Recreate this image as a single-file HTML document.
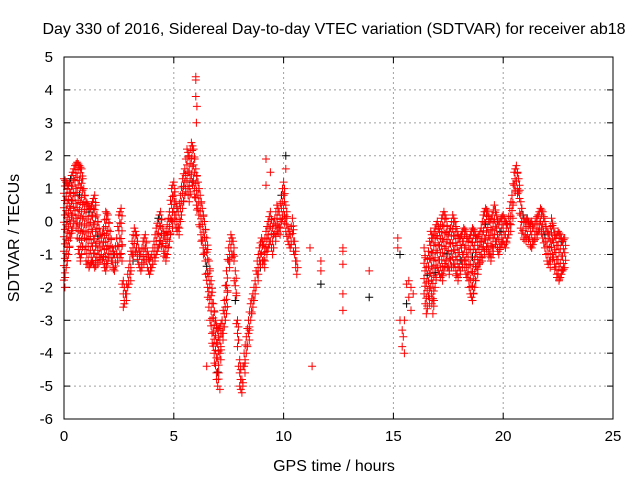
<!DOCTYPE html>
<html><head><meta charset="utf-8"><style>
html,body{margin:0;padding:0;background:#fff;}
svg{display:block;font-family:"Liberation Sans",sans-serif;}
</style></head><body>
<svg id="chart" width="640" height="480" viewBox="0 0 640 480">
<text x="334" y="34" font-size="16" text-anchor="middle">Day 330 of 2016, Sidereal Day-to-day VTEC variation (SDTVAR) for receiver ab18</text>
<text x="334" y="471" font-size="16" text-anchor="middle">GPS time / hours</text>
<text transform="translate(19,238) rotate(-90)" font-size="16" text-anchor="middle">SDTVAR / TECUs</text>
<g id="grid"></g><g id="ticks"></g><g id="marks"></g>
<rect x="64" y="57" width="549" height="362" fill="none" stroke="#000" stroke-width="1"/>
</svg>
<script>
const xTicks=[0,5,10,15,20,25];
const yTicks=[-6,-5,-4,-3,-2,-1,0,1,2,3,4,5];
const upperT=[0,0.1,0.2,0.3,0.4,0.5,0.6,0.7,0.8,0.9,1.0,1.1,1.2,1.3,1.4,1.5,1.6,1.7,1.8,1.9,2.0,2.1,2.2,2.3,2.4,2.5,2.6,2.7,2.8,2.9,3.0,3.1,3.2,3.3,3.4,3.5,3.6,3.7,3.8,3.9,4.0,4.1,4.2,4.3,4.4,4.5,4.6,4.7,4.8,4.9,5.0,5.1,5.2,5.3,5.4,5.5,5.6,5.7,5.8,5.9,6.0,6.1,6.2,6.3,6.4,6.5,6.6,6.7,6.8,6.9,7.0,7.1,7.2,7.3,7.4,7.5,7.6,7.7,7.8,7.9,8.0,8.1,8.2,8.3,8.4,8.5,8.6,8.7,8.8,8.9,9.0,9.1,9.2,9.3,9.4,9.5,9.6,9.7,9.8,9.9,10.0,10.1,10.2,10.3,10.4,10.5,10.6];
const upperV=[1.3,1.2,1.1,1.3,1.5,1.7,1.8,1.7,1.6,1.0,0.6,0.5,0.4,0.6,0.8,0.2,-0.2,-0.5,-0.2,0.3,0.2,-0.3,-0.8,-1.0,-0.5,0.2,0.4,-1.8,-2.2,-1.6,-1.2,-0.6,-0.2,-0.4,-0.8,-1.0,-0.6,-0.4,-0.9,-1.2,-1.0,-0.6,-0.2,0.1,0.3,-0.2,-0.5,-0.1,0.3,1.0,1.2,0.6,0.3,0.8,1.3,1.6,2.2,2.0,2.4,2.2,1.6,1.2,0.8,0.4,0,-0.5,-1.2,-1.8,-2.5,-3.0,-3.3,-3.2,-3.0,-2.4,-1.5,-0.8,-0.4,-0.6,-1.5,-3.0,-4.2,-4.8,-4.0,-3.5,-3.0,-2.5,-2.2,-1.8,-1.2,-0.8,-0.5,-0.7,-0.3,0,0.3,-0.2,0.1,0.5,0.3,0.8,1.2,0.5,-0.2,-0.4,0.1,-0.6,-1.2];
const lowerV=[-2.0,-1.4,-1.0,-0.5,-0.2,0.1,-0.5,-1.2,-1.0,-0.5,-1.2,-1.4,-1.3,-1.2,-1.4,-1.3,-1.2,-1.0,-1.3,-1.5,-1.2,-1.0,-1.4,-1.5,-1.2,-1.0,-1.2,-2.6,-2.4,-2.0,-1.8,-1.2,-0.9,-1.0,-1.3,-1.5,-1.3,-1.0,-1.4,-1.6,-1.4,-1.2,-1.0,-0.8,-0.6,-0.9,-1.2,-1.0,-0.6,-0.2,0.2,-0.2,-0.4,0,0.4,0.8,1.0,0.6,1.2,1.0,0.5,0.2,-0.4,-0.8,-1.2,-2.0,-2.6,-3.4,-4.0,-4.6,-5.0,-4.2,-3.6,-3.2,-2.8,-1.4,-1.0,-1.2,-2.4,-3.8,-5.0,-5.2,-4.6,-4.0,-3.6,-3.0,-2.6,-2.2,-1.8,-1.4,-1.2,-1.4,-1.0,-0.8,-0.6,-1.0,-0.6,-0.3,-0.4,0,0.2,-0.3,-0.6,-0.8,-0.6,-1.2,-1.6];
const lateT=[16.4,16.5,16.6,16.7,16.8,16.9,17.0,17.1,17.2,17.3,17.4,17.5,17.6,17.7,17.8,17.9,18.0,18.1,18.2,18.3,18.4,18.5,18.6,18.7,18.8,18.9,19.0,19.1,19.2,19.3,19.4,19.5,19.6,19.7,19.8,19.9,20.0,20.1,20.2,20.3,20.4,20.5,20.6,20.7,20.8,20.9,21.0,21.1,21.2,21.3,21.4,21.5,21.6,21.7,21.8,21.9,22.0,22.1,22.2,22.3,22.4,22.5,22.6,22.7,22.8];
const lateUpperV=[-0.8,-1.4,-0.9,-0.3,-0.5,-0.2,0,-0.3,0.1,0.3,0.1,-0.4,-0.2,0.2,0,-0.3,-0.5,-0.4,-0.2,-0.3,-0.6,-0.4,-0.2,-0.3,-0.5,-0.4,-0.2,0.2,0.4,0.3,0,0.2,0.5,0.2,-0.1,0.1,0.2,0,-0.1,0.4,0.8,1.5,1.7,1.3,0.6,0.2,0,0.1,-0.1,0,-0.2,0.1,0.2,0.4,0.3,0,-0.3,-0.4,0.1,-0.2,-0.5,-0.3,-0.4,-0.6,-0.5];
const lateLowerV=[-2.2,-2.8,-2.5,-2.2,-2.8,-2.0,-1.4,-1.6,-1.8,-1.5,-1.2,-1.6,-1.4,-1.3,-1.5,-1.8,-1.6,-1.4,-1.2,-1.6,-1.8,-2.2,-2.4,-2.0,-1.6,-1.3,-1.2,-1.0,-0.8,-0.9,-1.2,-1.0,-0.6,-0.8,-1.0,-0.7,-0.6,-0.8,-0.5,-0.3,0.1,0.9,1.0,0.7,-0.2,-0.5,-0.6,-0.4,-0.7,-0.8,-0.6,-0.5,-0.3,-0.2,-0.5,-0.8,-1.2,-1.4,-1.0,-1.3,-1.6,-1.8,-1.7,-1.5,-1.4];
const sparseT=[6.0,6.0,6.0,6.05,6.03,9.2,9.2,10.1,10.1,9.4,6.5,7.1,11.3,11.2,11.7,11.7,11.7,12.7,12.7,12.7,12.7,12.7,13.9,13.9,15.2,15.2,15.3,15.4,15.4,15.5,15.5,15.3,15.6,15.7,15.8,15.7,15.9,15.8,15.45,15.6];
const sparseV=[4.3,4.4,3.8,3.5,3.0,1.9,1.1,2.0,1.6,1.5,-4.4,-5.1,-4.4,-0.8,-1.5,-1.9,-1.2,-0.8,-1.3,-2.2,-2.7,-0.9,-1.5,-2.3,-0.8,-0.5,-3.0,-3.3,-3.8,-4.0,-3.0,-1.0,-1.9,-2.3,-2.7,-1.8,-2.2,-2.0,-3.5,-2.5];

const X0=64,X1=613,Y0=419,Y1=57,xMin=0,xMax=25,yMin=-6,yMax=5;
const xs=v=>X0+(v-xMin)/(xMax-xMin)*(X1-X0);
const ys=v=>Y0-(v-yMin)/(yMax-yMin)*(Y0-Y1);
const NS='http://www.w3.org/2000/svg';
const grid=document.getElementById('grid'),ticks=document.getElementById('ticks'),marks=document.getElementById('marks');
function mk(tag,attrs,parent){const e=document.createElementNS(NS,tag);for(const k in attrs)e.setAttribute(k,attrs[k]);parent.appendChild(e);return e;}
xTicks.forEach(t=>{const x=xs(t);
 if(t>xMin&&t<xMax){const g=mk('line',{x1:x,x2:x,y1:Y0,y2:Y1,stroke:'#a0a0a0','stroke-dasharray':'2,3'},grid);
 
 }
 mk('line',{x1:x,x2:x,y1:Y0,y2:Y0-6,stroke:'#000'},ticks);mk('line',{x1:x,x2:x,y1:Y1,y2:Y1+6,stroke:'#000'},ticks);
 const l=mk('text',{x:x,y:Y0+22,'font-size':15,'text-anchor':'middle'},ticks);l.textContent=t;
 
 });
yTicks.forEach(t=>{const y=ys(t);
 if(t>yMin&&t<yMax){const g=mk('line',{x1:X0,x2:X1,y1:y,y2:y,stroke:'#a0a0a0','stroke-dasharray':'2,3'},grid);
 
 }
 mk('line',{x1:X0,x2:X0+6,y1:y,y2:y,stroke:'#000'},ticks);mk('line',{x1:X1,x2:X1-6,y1:y,y2:y,stroke:'#000'},ticks);
 const l=mk('text',{x:X0-11,y:y+5,'font-size':15,'text-anchor':'end'},ticks);l.textContent=t;
 
 });
let d='',dk='';let n=0;
function plus(t,v,black){const x=xs(t),y=ys(v);const s=`M${(x-4).toFixed(1)} ${y.toFixed(1)}h8M${x.toFixed(1)} ${(y-4).toFixed(1)}v8`;if(black)dk+=s;else d+=s;}
function band(T,U,L){for(let i=0;i<T.length;i++){const u=U[i],l=L[i];const steps=Math.max(1,Math.round(Math.abs(u-l)/0.22));
 for(let k=0;k<=steps;k++){n++;plus(T[i]+(k%2?0.04:0),u+(l-u)*k/steps,n%41===0);}
 if(i<T.length-1){plus(T[i]+0.05,(u+U[i+1])/2,false);plus(T[i]+0.05,(l+L[i+1])/2,false);}}}
band(upperT,upperV,lowerV);
band(lateT,lateUpperV,lateLowerV);
sparseT.forEach((t,i)=>plus(t,sparseV[i],i%8===7));
const pk=mk('path',{d:dk,stroke:'#000','stroke-width':1,fill:'none'},marks);


const pr=mk('path',{d:d,stroke:'#ff0000','stroke-width':1,fill:'none'},marks);


</script>
</body></html>
